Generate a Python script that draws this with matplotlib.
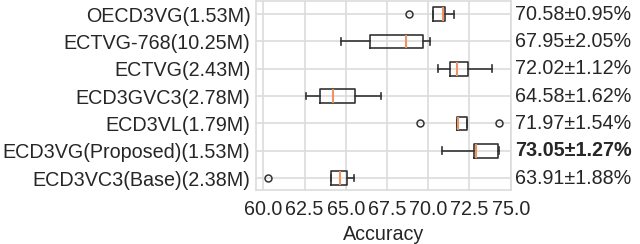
import matplotlib
matplotlib.use("Agg")
import matplotlib.pyplot as plt
import matplotlib.transforms as mtransforms

plt.rcParams['font.family'] = ['Liberation Sans', 'DejaVu Sans']

# rows listed top to bottom
models = ["OECD3VG(1.53M)", "ECTVG-768(10.25M)", "ECTVG(2.43M)", "ECD3GVC3(2.78M)",
          "ECD3VL(1.79M)", "ECD3VG(Proposed)(1.53M)", "ECD3VC3(Base)(2.38M)"]
whislo = [70.27, 64.71, 70.59, 62.59, 71.72, 70.83, 64.12]
q1     = [70.27, 66.48, 71.30, 63.42, 71.72, 72.77, 64.12]
med    = [70.91, 68.67, 71.72, 64.21, 71.78, 72.91, 64.65]
q3     = [71.03, 69.70, 72.42, 65.58, 72.36, 74.22, 65.07]
whishi = [71.58, 70.10, 73.86, 67.13, 72.36, 74.30, 65.52]
fliers = [[68.85], [], [], [], [69.52, 74.28], [], [60.27]]
summary = ["70.58±0.95%", "67.95±2.05%", "72.02±1.12%", "64.58±1.62%",
           "71.97±1.54%", "73.05±1.27%", "63.91±1.88%"]
bold_row = "ECD3VG(Proposed)(1.53M)"

txt = "#262626"
grid = "#dcdcdc"
fs = 14.2

stats = []
for i in range(len(models)):
    stats.append(dict(label=models[i], whislo=whislo[i], q1=q1[i], med=med[i],
                      q3=q3[i], whishi=whishi[i], fliers=fliers[i]))
stats = stats[::-1]
pos = list(range(1, len(models) + 1))

fig = plt.figure(figsize=(6.4, 2.44), dpi=100)
ax = fig.add_axes([0.4, 0.22, 0.398, 0.776])

ax.bxp(stats, positions=pos, vert=False, widths=0.5, patch_artist=False,
       boxprops=dict(color="#333333", linewidth=1.2),
       whiskerprops=dict(color="#333333", linewidth=1.2),
       capprops=dict(color="#333333", linewidth=1.2),
       medianprops=dict(color="#ee9363", linewidth=1.5),
       flierprops=dict(marker="o", markerfacecolor="none", markeredgecolor="#333333",
                       markersize=5, markeredgewidth=1.1))

ax.set_xlim(59.56, 75.0)
ax.set_ylim(0.55, 7.48)
ticks = [60.0, 62.5, 65.0, 67.5, 70.0, 72.5, 75.0]
ax.set_xticks(ticks)
ax.set_xticklabels([f"{v:.1f}" for v in ticks])
ax.set_yticks(pos)
ax.set_yticklabels(models[::-1])
ax.grid(True, color=grid, linewidth=1.2)
ax.set_axisbelow(True)
for s in ax.spines.values():
    s.set_color(grid)
    s.set_linewidth(1.2)
ax.tick_params(axis="both", length=0, labelsize=fs, labelcolor=txt)
ax.tick_params(axis="y", pad=4)
ax.tick_params(axis="x", pad=7)
ax.set_xlabel("Accuracy", fontsize=fs, color=txt, labelpad=4)

trans = mtransforms.blended_transform_factory(ax.transAxes, ax.transData)
for p, name, s in zip(pos, models[::-1], summary[::-1]):
    ax.text(1.018, p, s, transform=trans, va="center", ha="left", fontsize=fs, color=txt,
            fontweight="bold" if name == bold_row else "normal")

fig.savefig("out.png", dpi=100)
